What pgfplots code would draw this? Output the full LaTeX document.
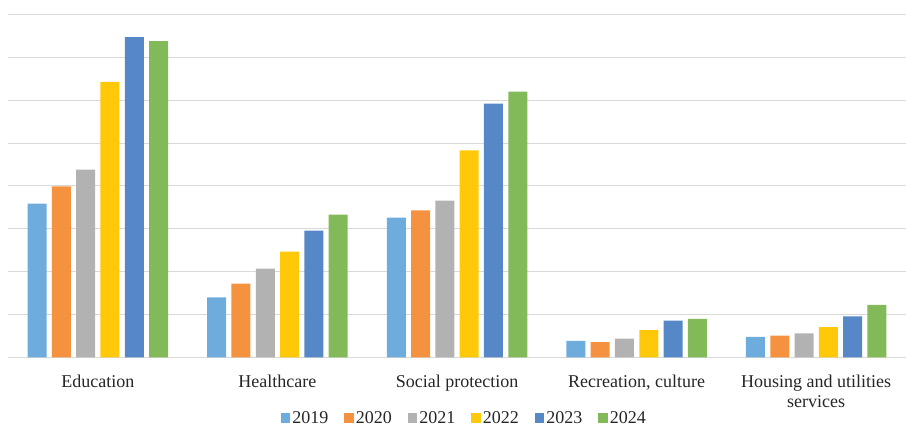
\documentclass[border=0pt]{standalone}
\usepackage{pgfplots}
\pgfplotsset{compat=1.18}
\usepackage{fontspec}
\setmainfont{Liberation Serif}
\definecolor{c19}{RGB}{111,172,222}
\definecolor{c20}{RGB}{244,146,64}
\definecolor{c21}{RGB}{178,178,178}
\definecolor{c22}{RGB}{255,201,10}
\definecolor{c23}{RGB}{86,135,199}
\definecolor{c24}{RGB}{130,186,90}
\definecolor{gridc}{RGB}{217,217,217}
\begin{document}
\begin{tikzpicture}[font=\fontsize{18}{20}\selectfont]
\begin{axis}[
  scale only axis,
  width=898pt, height=343pt,
  xmin=-0.5, xmax=4.5, ymin=0, ymax=8,
  ytick={0,1,...,8}, yticklabels={},
  ymajorgrids, grid style={gridc, line width=1pt},
  axis line style={draw=none},
  major tick length=0pt,
  xtick={0,1,2,3,4},
  xticklabels={Education,Healthcare,Social protection,{Recreation, culture},{Housing and utilities\\services}},
  xticklabel style={align=center, yshift=-14pt, text=black!85},
  ybar=5.3pt, bar width=19pt,
  legend columns=6,
  legend style={draw=none, at={(0.5083,-0.1764)}, anchor=center,
    /tikz/every even column/.append style={column sep=14pt},
    nodes={inner xsep=2pt, text=black!85}},
  legend image code/.code={\fill[#1] (0pt,-4.7pt) rectangle (9.5pt,4.7pt);},
]
\addplot[fill=c19, draw=none] coordinates {(0,3.59) (1,1.40) (2,3.26) (3,0.39) (4,0.48)};
\addplot[fill=c20, draw=none] coordinates {(0,3.99) (1,1.72) (2,3.43) (3,0.36) (4,0.51)};
\addplot[fill=c21, draw=none] coordinates {(0,4.38) (1,2.07) (2,3.66) (3,0.44) (4,0.56)};
\addplot[fill=c22, draw=none] coordinates {(0,6.43) (1,2.47) (2,4.83) (3,0.64) (4,0.71)};
\addplot[fill=c23, draw=none] coordinates {(0,7.47) (1,2.96) (2,5.92) (3,0.86) (4,0.96)};
\addplot[fill=c24, draw=none] coordinates {(0,7.38) (1,3.33) (2,6.20) (3,0.90) (4,1.23)};
\legend{2019,2020,2021,2022,2023,2024}
\coordinate (bl) at (rel axis cs:0,0);
\coordinate (tr) at (rel axis cs:1,1);
\end{axis}
\pgfresetboundingbox
\path[use as bounding box] ([xshift=-8pt,yshift=-68.5pt]bl) rectangle ([yshift=14.5pt]tr);
\end{tikzpicture}
\end{document}
